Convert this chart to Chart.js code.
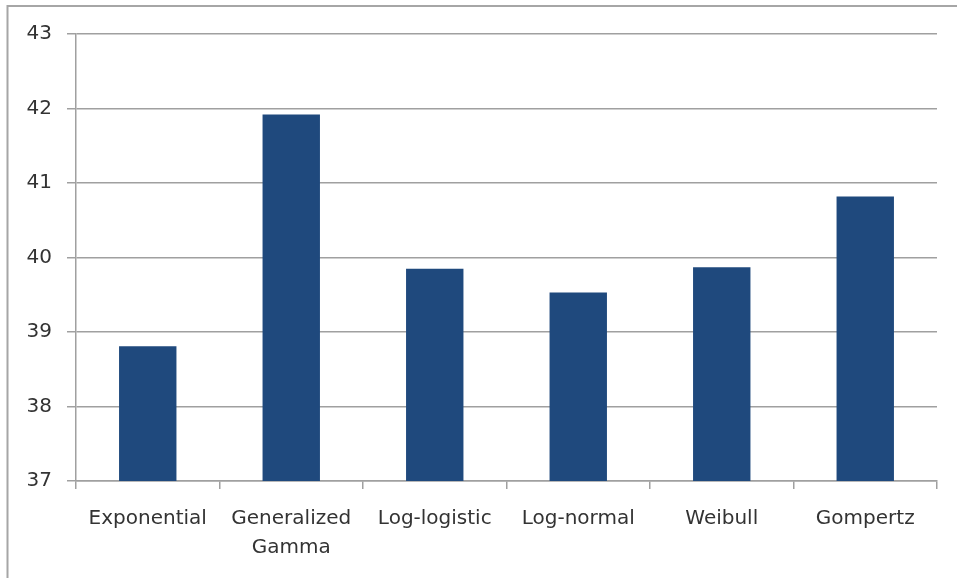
<!DOCTYPE html>
<html>
<head>
<meta charset="utf-8">
<script src="https://cdn.jsdelivr.net/npm/chart.js@4/dist/chart.umd.min.js"></script>
<style>
  html, body { margin: 0; padding: 0; background: #fff; }
  canvas { display: block; }
</style>
</head>
<body>
<canvas id="bars" width="957" height="578"></canvas>
<script>
const categories = ['Exponential', ['Generalized', 'Gamma'], 'Log-logistic', 'Log-normal', 'Weibull', 'Gompertz'];
const values = [38.81, 41.92, 39.85, 39.53, 39.87, 40.82];
const yTicks = [37, 38, 39, 40, 41, 42, 43];

const gridGray = '#a0a0a0';
const textGray = '#333333';
const labelFont = { family: 'DejaVu Sans', size: 20, lineHeight: 1.45 };

// thin frame along the top and left edge, like the chart box
const frame = {
    id: 'frame',
    beforeDraw(chart) {
        const c = chart.ctx;
        c.save();
        c.strokeStyle = '#a6a6a6';
        c.lineWidth = 2;
        c.beginPath();
        c.moveTo(957, 6);
        c.lineTo(7.5, 6);
        c.lineTo(7.5, 578);
        c.stroke();
        c.restore();
    }
};

const ctx = document.getElementById('bars').getContext('2d');
new Chart(ctx, {
    type: 'bar',
    data: {
        labels: categories,
        datasets: [{
            data: values,
            backgroundColor: '#1f497d',
            barPercentage: 0.4,
            categoryPercentage: 1
        }]
    },
    options: {
        responsive: false,
        animation: false,
        layout: { padding: { top: 34, right: 20, left: 0, bottom: 0 } },
        plugins: {
            legend: { display: false },
            tooltip: { enabled: false }
        },
        scales: {
            x: {
                offset: true,
                grid: {
                    offset: true,
                    drawOnChartArea: false,
                    color: gridGray,
                    lineWidth: 1.5,
                    tickLength: 8
                },
                border: { color: gridGray, width: 1.5 },
                ticks: {
                    color: textGray,
                    font: labelFont,
                    padding: 15,
                    maxRotation: 0,
                    autoSkip: false
                },
                afterFit(scale) { scale.height = 97; }
            },
            y: {
                min: 37,
                max: 43,
                afterBuildTicks(scale) {
                    scale.ticks = yTicks.map(v => ({ value: v }));
                },
                grid: {
                    color: gridGray,
                    lineWidth: 1.5,
                    tickLength: 9
                },
                border: { color: gridGray, width: 1.5 },
                ticks: {
                    color: textGray,
                    font: labelFont,
                    padding: 15
                },
                afterFit(scale) { scale.width = 76; }
            }
        }
    },
    plugins: [frame]
});
</script>
</body>
</html>
